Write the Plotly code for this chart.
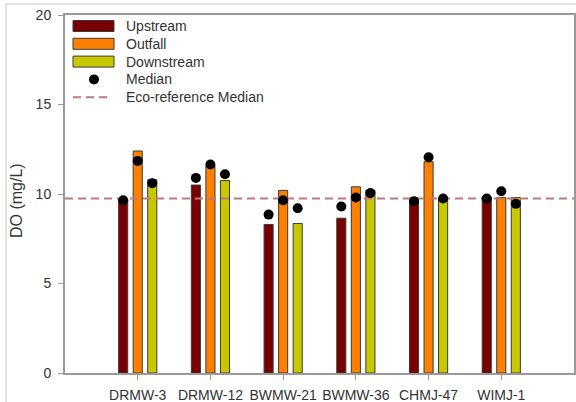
import plotly.graph_objects as go

# ---- data -------------------------------------------------------------
sites = ["DRMW-3", "DRMW-12", "BWMW-21", "BWMW-36", "CHMJ-47", "WIMJ-1"]

upstream = [9.7, 10.5, 8.3, 8.65, 9.65, 9.8]
outfall = [12.4, 11.55, 10.2, 10.4, 11.8, 9.8]
downstream = [10.8, 10.75, 8.35, 10.2, 9.75, 9.8]

median_upstream = [9.65, 10.9, 8.85, 9.3, 9.6, 9.75]
median_outfall = [11.85, 11.65, 9.65, 9.8, 12.05, 10.15]
median_downstream = [10.6, 11.1, 9.2, 10.05, 9.75, 9.45]

eco_reference_median = 9.75

series_names = ["Upstream", "Outfall", "Downstream"]
median_name = "Median"
eco_name = "Eco-reference Median"
y_title = "DO (mg/L)"

y_ticks = [0, 5, 10, 15, 20]

# ---- style --------------------------------------------------------------
colors = ["#780000", "#ff8000", "#c8c800"]
bar_edge = "#3a3a3a"
eco_color = "#c07878"
axis_grey = "#9a9a9a"
text_color = "#333333"
font_family = "Arial, Liberation Sans, sans-serif"

W, H = 576, 402
L, R, T, B = 65, 2, 15, 29
PW, PH = W - L - R, H - T - B

x_pos = [i + 1 for i in range(len(sites))]
x_range = [0, len(sites) + 1]
offsets = [-0.2, 0.0, 0.2]
bar_width = 0.125


def px_x(p):
    return (p - L) / PW


def px_y(p):
    return (H - B - p) / PH


fig = go.Figure()

bar_series = [upstream, outfall, downstream]
median_series = [median_upstream, median_outfall, median_downstream]

for name, vals, col, off in zip(series_names, bar_series, colors, offsets):
    fig.add_trace(go.Bar(
        x=[x + off for x in x_pos], y=vals, width=bar_width, name=name,
        marker=dict(color=col, line=dict(color=bar_edge, width=1)),
        showlegend=False,
    ))

# eco-reference median across the full plot width
fig.add_trace(go.Scatter(
    x=x_range, y=[eco_reference_median] * 2, mode="lines", name=eco_name,
    line=dict(color=eco_color, width=2, dash="8px,5px"), showlegend=False,
    cliponaxis=False,
))

for meds, off in zip(median_series, offsets):
    fig.add_trace(go.Scatter(
        x=[x + off for x in x_pos], y=meds, mode="markers", name=median_name,
        marker=dict(color="black", size=10), showlegend=False,
    ))

# ---- hand-built legend ------------------------------------------------
shapes = []
annotations = []
row_y = [26 + 17.8 * k for k in range(5)]
sw_x0, sw_x1 = 73, 114
text_x = 124

for k, (name, col) in enumerate(zip(series_names, colors)):
    yc = row_y[k]
    shapes.append(dict(type="rect", xref="paper", yref="paper",
                       x0=px_x(sw_x0), x1=px_x(sw_x1),
                       y0=px_y(yc - 5.5), y1=px_y(yc + 5.5),
                       fillcolor=col, line=dict(color=bar_edge, width=1)))
shapes.append(dict(type="circle", xref="paper", yref="paper",
                   x0=px_x(89), x1=px_x(99),
                   y0=px_y(row_y[3] - 5), y1=px_y(row_y[3] + 5),
                   fillcolor="black", line=dict(width=0)))
shapes.append(dict(type="line", xref="paper", yref="paper",
                   x0=px_x(sw_x0), x1=px_x(111),
                   y0=px_y(row_y[4]), y1=px_y(row_y[4]),
                   line=dict(color=eco_color, width=2, dash="8px,5px")))

legend_labels = series_names + [median_name, eco_name]
for yc, lab in zip(row_y, legend_labels):
    annotations.append(dict(xref="paper", yref="paper", x=px_x(text_x), y=px_y(yc),
                            text=lab, showarrow=False, xanchor="left", yanchor="middle",
                            font=dict(size=14, color=text_color, family=font_family)))

# rotated y-axis title
annotations.append(dict(xref="paper", yref="paper", x=px_x(17), y=px_y(201),
                        text=y_title, showarrow=False, textangle=-90,
                        xanchor="center", yanchor="middle",
                        font=dict(size=16, color=text_color, family=font_family)))

# outer frame lines around the figure
shapes.append(dict(type="line", xref="paper", yref="paper",
                   x0=px_x(6), x1=px_x(W), y0=px_y(4), y1=px_y(4),
                   line=dict(color="#c8c8c8", width=1)))
shapes.append(dict(type="line", xref="paper", yref="paper",
                   x0=px_x(6), x1=px_x(6), y0=px_y(4), y1=px_y(H),
                   line=dict(color="#c8c8c8", width=1)))

fig.update_layout(
    width=W, height=H,
    margin=dict(l=L, r=R, t=T, b=B, pad=0, autoexpand=False),
    paper_bgcolor="white", plot_bgcolor="white",
    barmode="overlay",
    showlegend=False,
    font=dict(family=font_family, size=14, color=text_color),
    shapes=shapes, annotations=annotations,
    xaxis=dict(
        range=x_range, tickmode="array", tickvals=x_pos, ticktext=sites,
        automargin=False,
        showgrid=False, zeroline=False, showline=True, mirror=True,
        linecolor=axis_grey, linewidth=2, ticks="outside", ticklen=5,
        tickcolor=axis_grey, tickwidth=1, ticklabelstandoff=3,
        tickfont=dict(size=14, color=text_color),
    ),
    yaxis=dict(
        range=[0, 20], tickmode="array", tickvals=y_ticks,
        automargin=False,
        showgrid=False, zeroline=False, showline=True, mirror=True,
        linecolor=axis_grey, linewidth=2, ticks="outside", ticklen=5,
        tickcolor=axis_grey, tickwidth=1, ticklabelstandoff=4,
        tickfont=dict(size=14, color=text_color),
    ),
)

fig.write_html("out.html")
